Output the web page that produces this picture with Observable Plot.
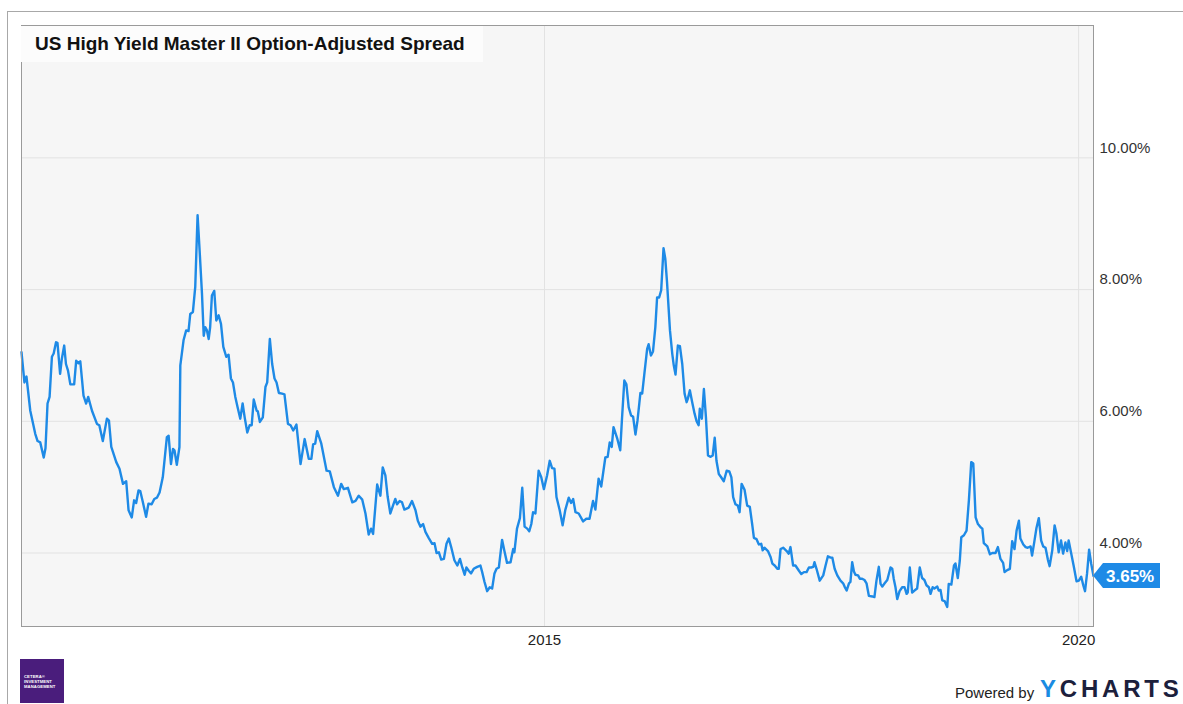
<!DOCTYPE html>
<html>
<head>
<meta charset="utf-8">
<script src="https://cdn.jsdelivr.net/npm/d3@7"></script>
<script src="https://cdn.jsdelivr.net/npm/@observablehq/plot@0.6"></script>
<style>
  html, body { margin: 0; padding: 0; background: #ffffff; }
  body { font-family: "Liberation Sans", Arial, Helvetica, sans-serif; }
  #wrap { position: relative; width: 1183px; height: 704px; overflow: hidden; background: #fff; }
  #outer { position: absolute; left: 7px; top: 11px; width: 1300px; height: 800px; border-left: 1px solid #a8a8a8; border-top: 1px solid #a8a8a8; }
  #chart { position: absolute; left: 0; top: 0; }
  #title { position: absolute; left: 21px; top: 26px; width: 462px; height: 36px; background: #fcfcfc; box-sizing: border-box; padding-left: 14px; font-weight: bold; font-size: 19px; line-height: 36px; color: #111; white-space: nowrap; }
  #logo { position: absolute; left: 20px; top: 659px; width: 44px; height: 44px; background: #4a1d7c; color: #fff; font-size: 4.2px; font-weight: bold; line-height: 5px; box-sizing: border-box; padding: 15px 0 0 4px; letter-spacing: 0.1px; }
  #powered { position: absolute; left: 955px; top: 684px; font-size: 15px; color: #222; white-space: nowrap; }
  #ycharts { position: absolute; left: 1040px; top: 675px; font-size: 24px; font-weight: bold; letter-spacing: 3.8px; color: #1c203c; white-space: nowrap; }
  #ycharts span { color: #1a8be2; }
</style>
</head>
<body>
<div id="wrap">
  <div id="outer"></div>
  <div id="chart"></div>
  <div id="title">US High Yield Master II Option-Adjusted Spread</div>
  <div id="logo">CETERA&reg;<br>INVESTMENT<br>MANAGEMENT</div>
  <div id="powered">Powered by</div>
  <div id="ycharts"><span>Y</span>CHARTS</div>
</div>
<script>
// ---- Data: US High Yield Master II OAS (%) ----
const dates = [
"2010-02-08","2010-02-18","2010-02-25","2010-03-10","2010-03-27","2010-04-04","2010-04-13","2010-04-25","2010-05-01","2010-05-08",
"2010-05-15","2010-05-23","2010-05-29","2010-06-06","2010-06-11","2010-06-20","2010-06-26","2010-07-04","2010-07-10","2010-07-17",
"2010-07-25","2010-08-07","2010-08-14","2010-08-22","2010-08-28","2010-09-08","2010-09-17","2010-09-24","2010-10-07","2010-10-24",
"2010-11-01","2010-11-13","2010-11-27","2010-12-04","2010-12-12","2010-12-29","2011-01-09","2011-01-21","2011-02-01","2011-02-09",
"2011-02-20","2011-02-28","2011-03-07","2011-03-15","2011-03-21","2011-03-30","2011-04-10","2011-04-18","2011-04-29","2011-05-08",
"2011-05-17","2011-05-26","2011-06-06","2011-06-20","2011-06-26","2011-07-04","2011-07-11","2011-07-16","2011-07-24","2011-08-02",
"2011-08-05","2011-08-16","2011-08-25","2011-09-02","2011-09-08","2011-09-17","2011-09-25","2011-10-03","2011-10-10","2011-10-18",
"2011-10-24","2011-10-29","2011-11-04","2011-11-10","2011-11-15","2011-11-21","2011-11-29","2011-12-06","2011-12-14","2011-12-22",
"2011-12-30","2012-01-09","2012-01-17","2012-01-25","2012-02-01","2012-02-09","2012-02-17","2012-02-26","2012-03-05","2012-03-12",
"2012-03-21","2012-03-29","2012-04-05","2012-04-12","2012-04-22","2012-04-26","2012-05-03","2012-05-13","2012-05-22","2012-05-28",
"2012-06-06","2012-06-14","2012-06-22","2012-06-29","2012-07-07","2012-07-18","2012-07-26","2012-08-07","2012-08-16","2012-08-25",
"2012-09-05","2012-09-19","2012-10-03","2012-10-17","2012-10-26","2012-11-01","2012-11-08","2012-11-15","2012-11-29","2012-12-17",
"2012-12-28","2013-01-11","2013-01-25","2013-02-05","2013-02-14","2013-02-28","2013-03-15","2013-03-26","2013-04-06","2013-04-18",
"2013-04-29","2013-05-10","2013-05-18","2013-05-25","2013-06-08","2013-06-19","2013-06-27","2013-07-06","2013-07-14","2013-07-23",
"2013-08-01","2013-08-09","2013-08-15","2013-08-24","2013-09-01","2013-09-09","2013-09-24","2013-10-05","2013-10-17","2013-10-25",
"2013-11-03","2013-11-12","2013-11-20","2013-12-01","2013-12-13","2013-12-21","2013-12-28","2014-01-05","2014-01-13","2014-01-22",
"2014-01-31","2014-02-08","2014-02-16","2014-02-27","2014-03-09","2014-03-18","2014-03-26","2014-04-03","2014-04-09","2014-04-17",
"2014-04-25","2014-05-04","2014-05-16","2014-05-27","2014-06-02","2014-06-10","2014-06-19","2014-06-28","2014-07-06","2014-07-14",
"2014-07-21","2014-07-29","2014-08-09","2014-08-17","2014-08-26","2014-09-07","2014-09-16","2014-09-20","2014-09-29","2014-10-09",
"2014-10-17","2014-10-25","2014-11-03","2014-11-10","2014-11-17","2014-11-23","2014-12-01","2014-12-12","2014-12-21","2014-12-30",
"2015-01-10","2015-01-19","2015-01-27","2015-02-04","2015-02-11","2015-02-22","2015-03-04","2015-03-13","2015-03-25","2015-04-02",
"2015-04-09","2015-04-17","2015-04-28","2015-05-13","2015-05-24","2015-06-04","2015-06-16","2015-06-24","2015-07-05","2015-07-14",
"2015-07-28","2015-08-05","2015-08-12","2015-08-19","2015-08-25","2015-09-06","2015-09-17","2015-09-23","2015-10-01","2015-10-08",
"2015-10-16","2015-10-24","2015-10-31","2015-11-08","2015-11-15","2015-11-25","2015-12-01","2015-12-08","2015-12-18","2015-12-23",
"2015-12-31","2016-01-07","2016-01-15","2016-01-21","2016-01-28","2016-02-04","2016-02-12","2016-02-18","2016-02-24","2016-03-05",
"2016-03-13","2016-03-18","2016-03-24","2016-04-01","2016-04-08","2016-04-16","2016-04-24","2016-05-01","2016-05-05","2016-05-12",
"2016-05-20","2016-05-28","2016-06-04","2016-06-11","2016-06-15","2016-06-22","2016-06-29","2016-07-06","2016-07-13","2016-07-22",
"2016-07-29","2016-08-05","2016-08-11","2016-08-19","2016-08-27","2016-09-05","2016-09-15","2016-09-24","2016-10-01","2016-10-07",
"2016-10-15","2016-10-23","2016-10-29","2016-11-05","2016-11-15","2016-11-24","2016-12-03","2016-12-11","2016-12-17","2016-12-26",
"2017-01-03","2017-01-11","2017-01-16","2017-01-22","2017-02-03","2017-02-12","2017-02-18","2017-02-26","2017-03-07","2017-03-12",
"2017-03-18","2017-03-27","2017-04-08","2017-04-15","2017-04-21","2017-04-30","2017-05-08","2017-05-20","2017-05-28","2017-06-06",
"2017-06-15","2017-06-23","2017-07-01","2017-07-08","2017-07-12","2017-07-19","2017-07-30","2017-08-11","2017-08-19","2017-08-27",
"2017-09-05","2017-09-11","2017-09-19","2017-09-28","2017-10-09","2017-10-18","2017-10-23","2017-10-30","2017-11-07","2017-11-12",
"2017-11-18","2017-11-24","2017-11-29","2017-12-08","2017-12-14","2017-12-22","2017-12-30","2018-01-06","2018-01-14","2018-01-26",
"2018-02-02","2018-02-09","2018-02-17","2018-02-23","2018-03-01","2018-03-09","2018-03-18","2018-03-29","2018-04-04","2018-04-09",
"2018-04-15","2018-04-21","2018-04-29","2018-05-08","2018-05-16","2018-05-23","2018-05-27","2018-06-03","2018-06-11","2018-06-19",
"2018-06-28","2018-07-07","2018-07-15","2018-07-23","2018-07-30","2018-08-07","2018-08-13","2018-08-20","2018-08-26","2018-09-05",
"2018-09-10","2018-09-16","2018-09-22","2018-09-30","2018-10-09","2018-10-14","2018-10-23","2018-11-01","2018-11-06","2018-11-14",
"2018-11-21","2018-11-26","2018-12-05","2018-12-14","2018-12-22","2018-12-30","2019-01-06","2019-01-14","2019-01-22","2019-01-31",
"2019-02-06","2019-02-11","2019-02-23","2019-03-04","2019-03-12","2019-03-23","2019-03-31","2019-04-09","2019-04-18","2019-04-23",
"2019-05-02","2019-05-11","2019-05-19","2019-05-27","2019-06-03","2019-06-11","2019-06-16","2019-06-26","2019-07-04","2019-07-11",
"2019-07-21","2019-07-26","2019-08-03","2019-08-10","2019-08-18","2019-08-26","2019-09-02","2019-09-10","2019-09-18","2019-09-24",
"2019-10-03","2019-10-11","2019-10-17","2019-10-25","2019-11-02","2019-11-09","2019-11-17","2019-11-23","2019-11-28","2019-12-07",
"2019-12-15","2019-12-25","2020-01-02","2020-01-10","2020-01-17","2020-01-23","2020-01-30","2020-02-06","2020-02-13","2020-02-21"
];
const spreads = [
7.05,6.59,6.68,6.16,5.81,5.70,5.68,5.45,5.59,6.27,
6.37,6.98,7.03,7.20,7.19,6.72,6.95,7.15,6.87,6.77,
6.56,6.56,6.92,6.88,6.91,6.39,6.27,6.37,6.16,5.96,
5.94,5.70,6.04,6.01,5.61,5.38,5.28,5.05,5.09,4.65,
4.54,4.80,4.76,4.95,4.94,4.77,4.55,4.75,4.74,4.82,
4.84,4.92,5.15,5.76,5.78,5.35,5.58,5.56,5.34,5.61,
6.85,7.23,7.38,7.37,7.63,7.66,8.04,9.13,8.59,7.94,
7.30,7.43,7.38,7.25,7.43,7.91,7.98,7.53,7.61,7.48,
7.13,6.98,7.01,6.65,6.59,6.37,6.21,6.04,6.27,6.06,
5.83,5.94,5.94,6.33,6.16,6.15,5.99,6.06,6.52,6.59,
7.25,6.87,6.65,6.59,6.43,6.42,6.41,5.96,5.94,5.86,
5.95,5.35,5.73,5.43,5.43,5.65,5.66,5.85,5.66,5.25,
5.24,5.00,4.87,5.05,4.97,4.99,4.77,4.79,4.87,4.81,
4.60,4.28,4.37,4.29,5.04,4.87,5.30,5.18,4.85,4.60,
4.72,4.82,4.74,4.79,4.77,4.66,4.69,4.79,4.65,4.49,
4.40,4.44,4.32,4.23,4.14,4.15,4.00,4.01,3.90,3.91,
4.14,4.22,4.09,3.89,3.81,3.91,3.78,3.67,3.78,3.73,
3.69,3.76,3.79,3.81,3.71,3.56,3.42,3.48,3.46,3.69,
3.76,3.78,4.20,4.03,3.85,3.86,4.06,4.01,4.37,4.53,
4.99,4.40,4.37,4.33,4.44,4.62,4.60,5.25,5.15,4.97,
5.18,5.40,5.29,5.28,4.85,4.65,4.42,4.65,4.84,4.76,
4.82,4.62,4.60,4.48,4.52,4.52,4.79,4.66,5.13,5.01,
5.45,5.46,5.68,5.61,5.91,5.75,5.56,6.04,6.62,6.56,
6.21,6.09,6.07,5.80,6.01,6.43,6.42,6.70,7.10,7.17,
7.00,7.06,7.43,7.88,7.88,7.99,8.63,8.47,8.11,7.38,
7.02,6.85,6.71,7.15,7.14,6.87,6.42,6.29,6.34,6.47,
6.29,6.12,6.00,5.94,6.19,6.04,6.49,6.06,5.48,5.46,
5.48,5.75,5.40,5.20,5.15,5.09,5.25,5.24,5.15,4.85,
4.74,4.72,4.62,5.05,4.96,4.72,4.70,4.44,4.23,4.21,
4.13,4.14,4.04,4.08,4.03,3.94,3.84,3.81,3.76,3.76,
4.06,4.08,4.03,3.99,4.09,3.81,3.81,3.73,3.68,3.71,
3.71,3.78,3.78,3.79,3.86,3.76,3.58,3.66,3.81,3.95,
3.93,3.93,3.76,3.66,3.58,3.54,3.49,3.43,3.54,3.56,
3.86,3.72,3.67,3.66,3.61,3.61,3.59,3.54,3.35,3.34,
3.33,3.58,3.79,3.53,3.49,3.54,3.59,3.78,3.76,3.61,
3.48,3.30,3.42,3.48,3.48,3.38,3.40,3.78,3.40,3.43,
3.46,3.78,3.62,3.59,3.51,3.48,3.38,3.48,3.46,3.49,
3.43,3.44,3.28,3.27,3.18,3.53,3.52,3.81,3.84,3.62,
3.89,4.24,4.27,4.34,4.80,5.38,5.36,4.54,4.44,4.39,
4.37,4.15,4.10,3.98,4.00,4.00,4.09,3.91,3.85,3.71,
3.74,3.76,4.18,4.06,4.34,4.49,4.22,4.13,4.09,4.08,
4.10,3.96,4.18,4.38,4.53,4.19,4.10,4.08,3.90,3.80,
4.04,4.42,4.30,4.01,4.19,3.99,4.16,4.03,4.19,3.99,
3.81,3.57,3.58,3.64,3.51,3.42,3.69,4.05,3.84,3.65
];
const xTickDates = ["2015-01-01", "2020-01-01"];
const yTickValues = [4, 6, 8, 10];
const xDomain = ["2010-02-08", "2020-02-21"];
const yDomain = [2.884, 12.01];

// ---- Build table ----
const data = dates.map((d, i) => ({date: new Date(d + "T00:00:00Z"), value: spreads[i]}));
const xTicks = xTickDates.map(d => new Date(d + "T00:00:00Z"));
const pct = v => v.toFixed(2) + "%";
const lineColor = "#1e8ae6";

const chart = Plot.plot({
  width: 1183,
  height: 704,
  marginTop: 25,
  marginLeft: 21,
  marginRight: 90,
  marginBottom: 78,
  style: {background: "transparent", fontFamily: "'Liberation Sans', Arial, sans-serif", fontSize: "15px", color: "#333"},
  x: {type: "utc", domain: xDomain.map(d => new Date(d + "T00:00:00Z")), label: null},
  y: {domain: yDomain, label: null},
  marks: [
    Plot.frame({fill: "#f6f6f6", stroke: "none"}),
    Plot.gridY(yTickValues, {stroke: "#e2e2e2", strokeOpacity: 1, strokeWidth: 1}),
    Plot.gridX(xTicks, {stroke: "#e2e2e2", strokeOpacity: 1, strokeWidth: 1}),
    Plot.line(data, {x: "date", y: "value", stroke: lineColor, strokeWidth: 2.4, strokeLinejoin: "round"}),
    Plot.frame({stroke: "#9a9a9a", strokeWidth: 1}),
    Plot.axisY(yTickValues, {anchor: "right", tickSize: 0, tickPadding: 6, dy: -10, tickFormat: pct, fontSize: 15, fill: "#333", label: null}),
    Plot.axisX(xTicks, {anchor: "bottom", tickSize: 0, tickPadding: 8, tickFormat: d => String(d.getUTCFullYear()), fontSize: 15, fill: "#222", label: null})
  ]
});
document.getElementById("chart").appendChild(chart);

// ---- Last value flag, positioned through the chart's scales ----
const last = data[data.length - 1];
const px = chart.scale("x").apply(last.date);
const py = chart.scale("y").apply(last.value);
const svg = d3.select(chart);
const g = svg.append("g");
const h = 25, tip = 10, w = 67;
g.append("path")
  .attr("d", `M${px},${py} L${px + tip},${py - h / 2} L${px + w},${py - h / 2} L${px + w},${py + h / 2} L${px + tip},${py + h / 2} Z`)
  .attr("fill", lineColor);
g.append("text")
  .attr("x", px + tip + 3)
  .attr("y", py)
  .attr("dy", "0.36em")
  .attr("text-anchor", "start")
  .attr("fill", "#fff")
  .attr("font-weight", "bold")
  .attr("font-size", 17)
  .attr("font-family", "'Liberation Sans', Arial, sans-serif")
  .text(pct(last.value));
</script>
</body>
</html>
